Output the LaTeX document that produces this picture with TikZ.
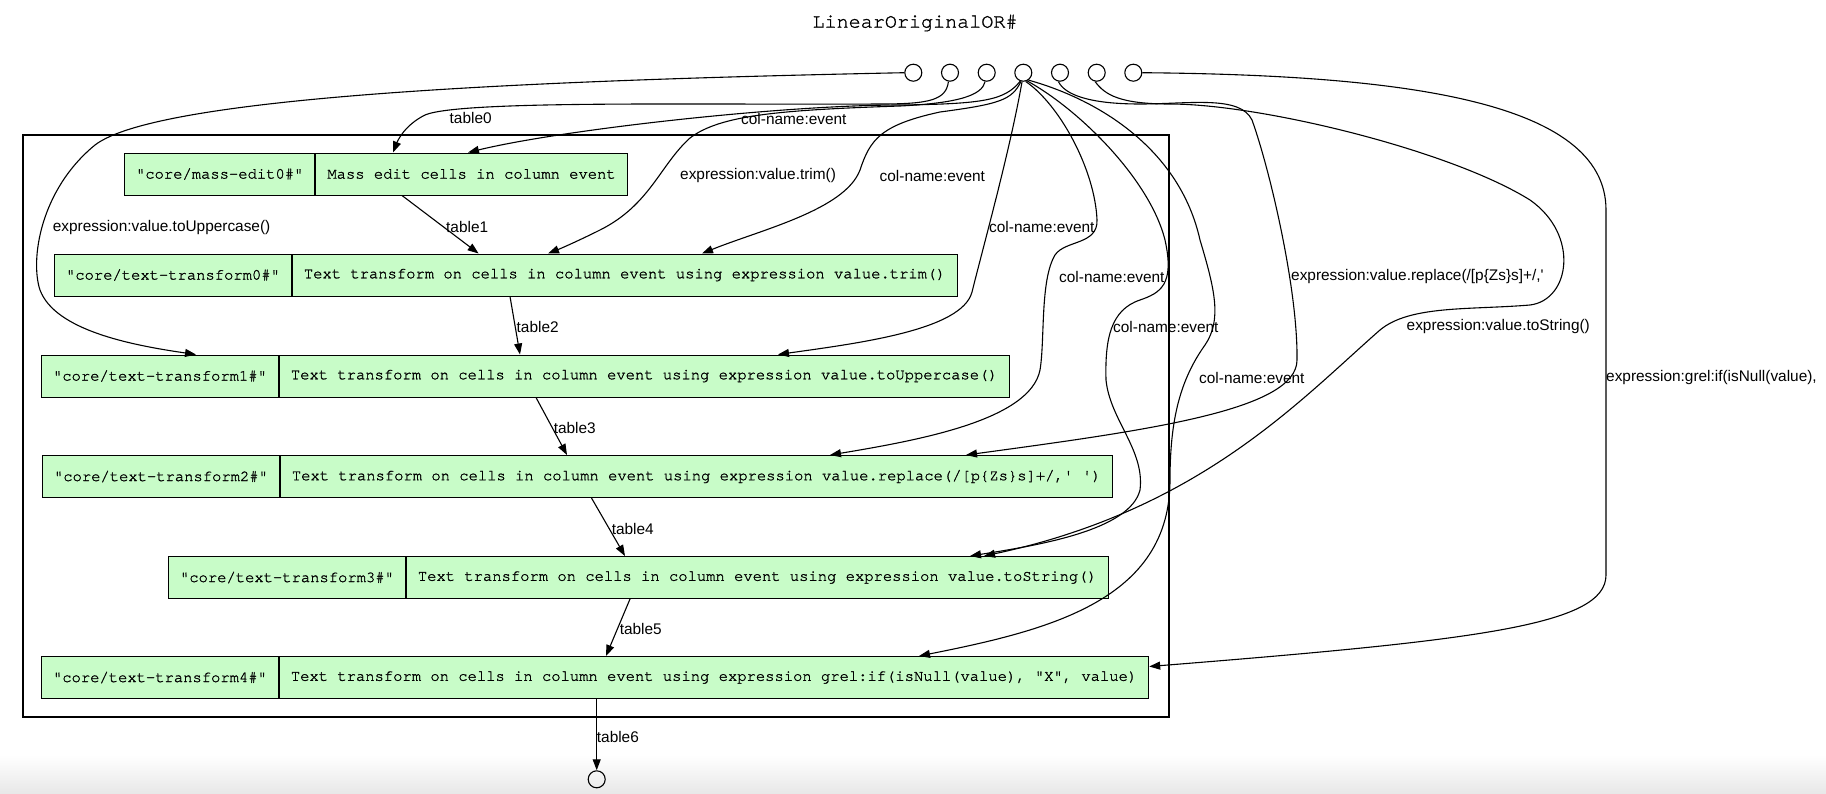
\documentclass[tikz,border=0pt]{standalone}
\usepackage{fontspec}
\setmainfont{Liberation Sans}
\setmonofont[FakeBold=1.2]{TeX Gyre Cursor}
\usetikzlibrary{positioning,arrows.meta}
\definecolor{opgreen}{RGB}{200,252,200}

\begin{document}
\begin{tikzpicture}[x=1pt,y=-1pt,
  op/.style={draw, fill=opgreen, line width=1pt, minimum height=42pt,
    inner xsep=11.5pt, inner ysep=0pt, font=\fontsize{15.5}{18}\ttfamily},
  port/.style={draw, circle, line width=1.1pt, minimum size=17pt, inner sep=0pt},
  lbl/.style={anchor=west, inner sep=0pt, font=\fontsize{15.4}{18}\selectfont},
  flow/.style={draw, line width=1.1pt, -{Triangle[length=11pt,width=8pt]}}]
\useasboundingbox (0,0) rectangle (1826,793);
\shade[top color=white, bottom color=black!9] (0,755) rectangle (1826,793);

\node[font=\fontsize{20.1}{24}\ttfamily] (title) at (915,23) {LinearOriginalOR\#};

% input ports and output port
\foreach \i/\x in {1/913.3,2/950,3/986.7,4/1023.3,5/1060,6/1096.7,7/1133.3}
  \node[port] (c\i) at (\x,72.7) {};
\node[port] (cout) at (596.7,779.3) {};

% cluster
\draw[line width=2.5pt] (23,135) rectangle (1169,717);

% operations
\node[op, anchor=west] (me0id) at (124,174) {"core/mass-edit0\#"};
\node[op, right=0pt of me0id] (me0) {Mass edit cells in column event};
\node[op, anchor=west] (tt0id) at (54,275) {"core/text-transform0\#"};
\node[op, right=0pt of tt0id] (tt0) {Text transform on cells in column event using expression value.trim()};
\node[op, anchor=west] (tt1id) at (41,376) {"core/text-transform1\#"};
\node[op, right=0pt of tt1id] (tt1) {Text transform on cells in column event using expression value.toUppercase()};
\node[op, anchor=west] (tt2id) at (42,476.5) {"core/text-transform2\#"};
\node[op, right=0pt of tt2id] (tt2) {Text transform on cells in column event using expression value.replace(/[p\{Zs\}s]+/,' ')};
\node[op, anchor=west] (tt3id) at (168,577.5) {"core/text-transform3\#"};
\node[op, right=0pt of tt3id] (tt3) {Text transform on cells in column event using expression value.toString()};
\node[op, anchor=west] (tt4id) at (41,677.5) {"core/text-transform4\#"};
\node[op, right=0pt of tt4id] (tt4) {Text transform on cells in column event using expression grel:if(isNull(value), "X", value)};

% chain of tables
\path[flow] (402,0 |- me0.south) -- (478.6,0 |- tt0.north);
\path[flow] (510,0 |- tt0.south) -- (520,0 |- tt1.north);
\path[flow] (536,0 |- tt1.south) -- (567,0 |- tt2.north);
\path[flow] (591.5,0 |- tt2.south) -- (625,0 |- tt3.north);
\path[flow] (630,0 |- tt3.south) -- (606,0 |- tt4.north);
\path[flow] (596.7,0 |- tt4.south) -- (cout);

% edges from the ports
\path[flow] (c1.west) .. controls (550,80) and (160,95) .. (95,145)
  .. controls (40,190) and (30,260) .. (40,290)
  .. controls (55,330) and (130,345) .. (196,0 |- tt1id.north);
\path[flow] (c2.-100) .. controls (946,100) and (930,104) .. (880,104)
  .. controls (700,105) and (460,100) .. (425,115)
  .. controls (405,125) and (398,140) .. (393,0 |- me0.north);
\path[flow] (c4.-110) .. controls (1005,100) and (985,104) .. (900,105)
  .. controls (780,105) and (560,130) .. (468,0 |- me0.north);
\path[flow] (c3.-100) .. controls (982,95) and (960,103) .. (900,106)
  .. controls (780,110) and (720,115) .. (690,138)
  .. controls (660,165) and (650,205) .. (600,230)
  .. controls (580,240) and (562,248) .. (548,0 |- tt0.north);
\path[flow] (c4.-105) .. controls (1012,100) and (1000,104) .. (940,112)
  .. controls (880,125) and (870,140) .. (860,170)
  .. controls (845,210) and (760,230) .. (702,0 |- tt0.north);
\path[flow] (c4.-98) .. controls (1010,150) and (985,240) .. (972,292)
  .. controls (962,330) and (860,343) .. (778,0 |- tt1.north);
\path[flow] (c4.-75) .. controls (1060,105) and (1095,170) .. (1097,220)
  .. controls (1098,245) and (1065,240) .. (1055,255)
  .. controls (1040,280) and (1045,340) .. (1040,370)
  .. controls (1030,420) and (920,440) .. (830,0 |- tt2.north);
\path[flow] (c4.-65) .. controls (1080,110) and (1150,180) .. (1165,240)
  .. controls (1175,285) and (1160,293) .. (1140,300)
  .. controls (1110,310) and (1105,340) .. (1106,380)
  .. controls (1110,420) and (1145,450) .. (1140,490)
  .. controls (1130,530) and (1040,545) .. (970,0 |- tt3.north);
\path[flow] (c4.-55) .. controls (1100,100) and (1180,150) .. (1200,240)
  .. controls (1215,290) and (1222,320) .. (1205,345)
  .. controls (1180,380) and (1170,420) .. (1170,480)
  .. controls (1170,600) and (1050,630) .. (919,0 |- tt4.north);
\path[flow] (c5.-100) .. controls (1065,95) and (1090,104) .. (1140,104)
  .. controls (1190,104) and (1240,95) .. (1252,120)
  .. controls (1270,170) and (1298,290) .. (1297,360)
  .. controls (1297,410) and (1150,430) .. (966,0 |- tt2.north);
\path[flow] (c6.-100) .. controls (1105,95) and (1120,104) .. (1170,104)
  .. controls (1260,104) and (1450,150) .. (1530,200)
  .. controls (1580,235) and (1570,300) .. (1530,305)
  .. controls (1470,310) and (1410,305) .. (1380,330)
  .. controls (1300,400) and (1200,510) .. (984,0 |- tt3.north);
\path[flow] (c7.east) .. controls (1400,75) and (1606,100) .. (1606,210)
  -- (1606,575) .. controls (1606,625) and (1480,640) .. (tt4.east |- 0,666.5);

% edge labels
\node[lbl] (lt0) at (449.5,118) {table0};
\node[lbl] (lc1) at (741,119) {col-name:event};
\node[lbl] (lup) at (52.7,227.7) {expression:value.toUppercase()};
\node[lbl] (lt1) at (446,227) {table1};
\node[lbl] (ltr) at (680,176) {expression:value.trim()};
\node[lbl] (lc2) at (879.5,176) {col-name:event};
\node[lbl] (lc3) at (989,226.5) {col-name:event};
\node[lbl] (lt2) at (516.5,326.7) {table2};
\node[lbl] (lc4) at (1059,277) {col-name:event};
\node[lbl] (lrep) at (1291,277) {expression:value.replace(/[p\{Zs\}s]+/,\textquotesingle};
\node[lbl] (lc5) at (1113,326.7) {col-name:event};
\node[lbl] (lts) at (1406.5,326.7) {expression:value.toString()};
\node[lbl] (lc6) at (1199,377.7) {col-name:event};
\node[lbl] (lgr) at (1606,377.7) {expression:grel:if(isNull(value),};
\node[lbl] (lt3) at (553.6,427.7) {table3};
\node[lbl] (lt4) at (611.6,529) {table4};
\node[lbl] (lt5) at (619.6,629.3) {table5};
\node[lbl] (lt6) at (596.7,736.7) {table6};
\end{tikzpicture}
\end{document}
